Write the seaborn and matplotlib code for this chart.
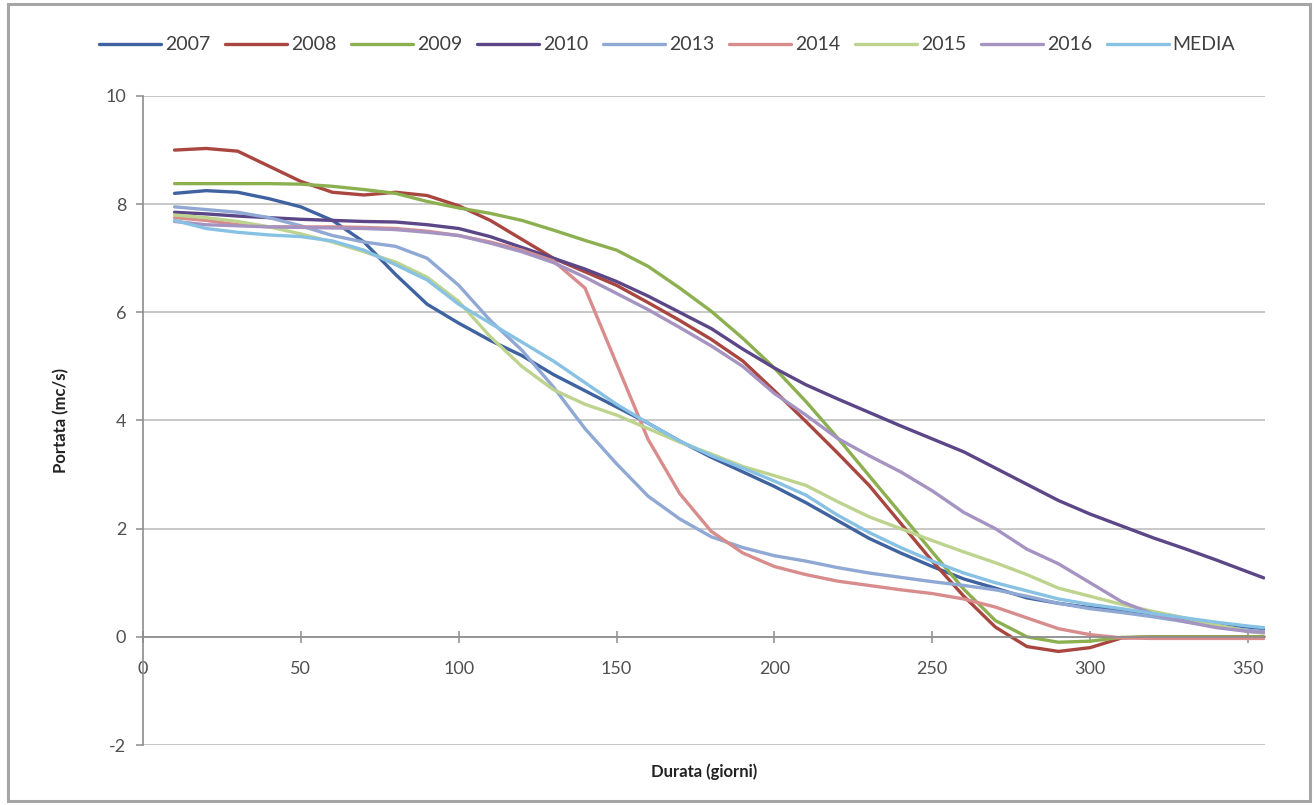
import matplotlib
matplotlib.use("Agg")
import matplotlib.pyplot as plt
import matplotlib.patches as mpatches
from matplotlib.ticker import MultipleLocator
import seaborn as sns
import pandas as pd

# ---- data ----
days = [10, 20, 30, 40, 50, 60, 70, 80, 90, 100, 110, 120, 130, 140, 150, 160, 170, 180,
        190, 200, 210, 220, 230, 240, 250, 260, 270, 280, 290, 300, 310, 320, 330, 340, 350, 355]

y2007 = [8.20, 8.25, 8.22, 8.10, 7.95, 7.70, 7.30, 6.70, 6.15, 5.80, 5.48, 5.20, 4.85, 4.55, 4.25, 3.95, 3.62, 3.32,
         3.05, 2.78, 2.48, 2.15, 1.82, 1.55, 1.30, 1.07, 0.90, 0.72, 0.62, 0.54, 0.50, 0.42, 0.33, 0.25, 0.18, 0.15]
y2008 = [9.00, 9.03, 8.98, 8.70, 8.42, 8.22, 8.17, 8.22, 8.16, 7.97, 7.70, 7.35, 7.00, 6.75, 6.50, 6.18, 5.85, 5.50,
         5.10, 4.55, 3.98, 3.40, 2.80, 2.10, 1.40, 0.75, 0.18, -0.18, -0.27, -0.20, -0.02, 0.00, 0.00, 0.00, 0.00, 0.00]
y2009 = [8.38, 8.38, 8.38, 8.38, 8.37, 8.33, 8.27, 8.20, 8.05, 7.93, 7.83, 7.70, 7.52, 7.33, 7.15, 6.85, 6.45, 6.02,
         5.52, 4.97, 4.35, 3.68, 2.98, 2.28, 1.57, 0.88, 0.30, 0.00, -0.10, -0.08, -0.01, 0.00, 0.00, 0.00, 0.00, 0.00]
y2010 = [7.85, 7.82, 7.78, 7.75, 7.72, 7.70, 7.68, 7.67, 7.62, 7.55, 7.40, 7.20, 7.00, 6.80, 6.57, 6.30, 6.00, 5.70,
         5.32, 4.97, 4.66, 4.40, 4.15, 3.90, 3.66, 3.42, 3.12, 2.82, 2.52, 2.27, 2.05, 1.83, 1.63, 1.42, 1.20, 1.09]
y2013 = [7.95, 7.90, 7.85, 7.75, 7.60, 7.42, 7.30, 7.22, 7.00, 6.50, 5.85, 5.30, 4.62, 3.85, 3.20, 2.60, 2.18, 1.85,
         1.65, 1.50, 1.40, 1.28, 1.18, 1.10, 1.02, 0.95, 0.87, 0.75, 0.62, 0.52, 0.45, 0.37, 0.28, 0.20, 0.12, 0.10]
y2014 = [7.75, 7.70, 7.62, 7.58, 7.58, 7.58, 7.57, 7.55, 7.50, 7.42, 7.30, 7.15, 6.95, 6.45, 5.05, 3.65, 2.65, 1.95,
         1.55, 1.30, 1.15, 1.03, 0.95, 0.87, 0.80, 0.70, 0.55, 0.35, 0.15, 0.04, -0.02, -0.03, -0.03, -0.03, -0.03, -0.03]
y2015 = [7.80, 7.75, 7.68, 7.58, 7.45, 7.30, 7.12, 6.93, 6.65, 6.20, 5.55, 5.00, 4.57, 4.30, 4.10, 3.85, 3.60, 3.38,
         3.15, 2.98, 2.80, 2.50, 2.22, 2.00, 1.78, 1.57, 1.37, 1.15, 0.90, 0.75, 0.60, 0.47, 0.35, 0.22, 0.10, 0.07]
y2016 = [7.68, 7.62, 7.60, 7.58, 7.57, 7.56, 7.55, 7.53, 7.48, 7.42, 7.28, 7.12, 6.92, 6.65, 6.35, 6.05, 5.72, 5.38,
         5.00, 4.50, 4.10, 3.67, 3.35, 3.05, 2.70, 2.30, 2.00, 1.62, 1.35, 1.00, 0.65, 0.42, 0.28, 0.17, 0.10, 0.08]
ymedia = [7.70, 7.55, 7.48, 7.43, 7.40, 7.32, 7.15, 6.88, 6.60, 6.15, 5.80, 5.45, 5.10, 4.70, 4.30, 3.95, 3.62, 3.35,
          3.12, 2.88, 2.62, 2.25, 1.93, 1.65, 1.40, 1.18, 1.00, 0.85, 0.70, 0.60, 0.52, 0.43, 0.35, 0.27, 0.20, 0.17]

series_names = ["2007", "2008", "2009", "2010", "2013", "2014", "2015", "2016", "MEDIA"]
series_values = [y2007, y2008, y2009, y2010, y2013, y2014, y2015, y2016, ymedia]
colors = ["#3F62A0", "#A8463F", "#8CB050", "#5B4787", "#8FA8D4",
          "#D88C8C", "#BDD38E", "#A593C2", "#87C1E3"]

x_ticks = [0, 50, 100, 150, 200, 250, 300, 350]
y_ticks = [-2, 0, 2, 4, 6, 8, 10]

rows = []
for name, vals in zip(series_names, series_values):
    for d, v in zip(days, vals):
        rows.append({"Durata": d, "Portata": v, "Serie": name})
df = pd.DataFrame(rows)

# ---- figure ----
sns.set_theme(style="white")
plt.rcParams["font.family"] = ["Lato", "DejaVu Sans"]
plt.rcParams["axes.unicode_minus"] = False

fig = plt.figure(figsize=(13.16, 8.05), dpi=100)
ax = fig.add_axes([143 / 1316, 1 - 745 / 805, (1265 - 143) / 1316, (745 - 96) / 805])

palette = dict(zip(series_names, colors))
sns.lineplot(data=df, x="Durata", y="Portata", hue="Serie", hue_order=series_names,
             palette=palette, linewidth=2.4, ax=ax, legend=True, sort=False)

ax.set_xlim(0, 355.4)
ax.set_ylim(-2, 10)
ax.set_yticks(y_ticks)
ax.set_xticks(x_ticks)
ax.xaxis.set_minor_locator(MultipleLocator(10))

ax.grid(axis="y", color="#BFBFBF", linewidth=1.2)
ax.grid(axis="x", visible=False)
ax.set_axisbelow(True)

for s in ["top", "right"]:
    ax.spines[s].set_visible(False)
ax.spines["bottom"].set_position(("data", 0))
ax.spines["bottom"].set_color("#8C8C8C")
ax.spines["left"].set_color("#8C8C8C")
ax.spines["bottom"].set_linewidth(1.2)
ax.spines["left"].set_linewidth(1.2)

ax.tick_params(axis="x", which="major", direction="inout", length=9, width=1.1,
               color="#8C8C8C", labelsize=13, labelcolor="#505050", pad=13)
ax.tick_params(axis="x", which="minor", direction="inout", length=6, width=1.0, color="#8C8C8C")
ax.tick_params(axis="y", which="major", direction="out", length=5, width=1.1,
               color="#8C8C8C", labelsize=13, labelcolor="#505050", pad=7)
ax.tick_params(axis="y", left=True)
ax.tick_params(axis="x", bottom=True)

ax.set_xlabel("Durata (giorni)", fontsize=12, fontweight="bold", color="#222222")
ax.xaxis.set_label_coords(0.5, -0.028)
ax.set_ylabel("Portata (mc/s)", fontsize=12, fontweight="bold", color="#222222")
ax.yaxis.set_label_coords(-0.066, 0.5)

handles, labels = ax.get_legend_handles_labels()
ax.get_legend().remove()
fig.legend(handles, labels, loc="center", bbox_to_anchor=(0.507, 1 - 45 / 805), ncol=9,
           frameon=False, fontsize=14, handlelength=3.2, handletextpad=0.2,
           columnspacing=0.75, labelcolor="#404040")

# chart border
fig.patches.append(mpatches.Rectangle((8 / 1316, 4 / 805), 1 - 14 / 1316, 1 - 8 / 805,
                                      transform=fig.transFigure, fill=False,
                                      edgecolor="#A6A6A6", linewidth=2.2))

fig.savefig("out.png", dpi=100)
